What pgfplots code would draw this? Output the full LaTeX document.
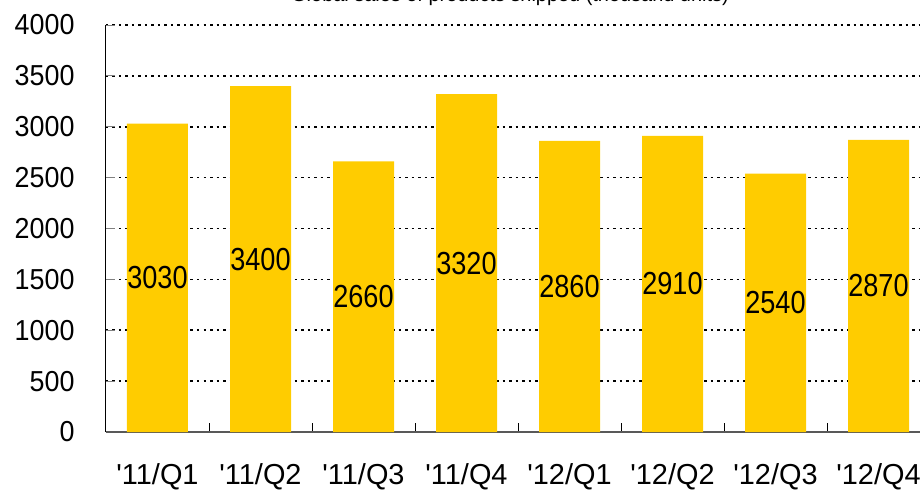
\documentclass[border=0pt]{standalone}
\usepackage{fontspec}
\setmainfont{Liberation Sans}
\newfontfamily\condA[FakeStretch=0.85]{Liberation Sans}
\newfontfamily\condB[FakeStretch=0.93]{Liberation Sans}
\usepackage{pgfplots}
\pgfplotsset{compat=1.18}
\definecolor{baryellow}{RGB}{255,204,0}
\begin{document}
\begin{tikzpicture}
\useasboundingbox (-106bp,-61bp) rectangle (814bp,432bp);
\clip (-106bp,-61bp) rectangle (814bp,432bp);
\node[anchor=base, font=\fontsize{20}{24}\selectfont] at (404bp,430.5bp) {Global sales of products shipped (thousand units)};
\begin{axis}[
  at={(0bp,0bp)}, anchor=south west,
  scale only axis, width=824bp, height=407bp,
  ymin=0, ymax=4000, ytick={0,500,...,4000},
  xmin=-0.5, xmax=7.5,
  xtick={0,...,7},
  xticklabels={\textquotesingle 11/Q1,\textquotesingle 11/Q2,\textquotesingle 11/Q3,\textquotesingle 11/Q4,\textquotesingle 12/Q1,\textquotesingle 12/Q2,\textquotesingle 12/Q3,\textquotesingle 12/Q4},
  major x tick style={draw=none},
  minor xtick={0.5,1.5,...,6.5},
  minor x tick style={black, line width=0.8bp},
  minor tick length=9bp,
  major tick length=9bp,
  ytick style={gray, line width=1bp},
  axis x line*=bottom, axis y line*=left,
  x axis line style={gray!70!black, line width=1.2bp, -},
  y axis line style={black, line width=1bp, -},
  ymajorgrids,
  grid style={black, line width=1.6bp, dash pattern=on 2.5bp off 4bp},
  yticklabel style={font=\condB\fontsize{29}{34}\selectfont, xshift=-28bp},
  xticklabel style={font=\fontsize{29}{34}\selectfont, yshift=-30bp, inner sep=1bp},
  /pgf/number format/assume math mode=true,
  /pgf/number format/1000 sep={},
  clip=false,
]
\addplot[ybar, bar width=61bp, fill=baryellow, draw=none] coordinates {
  (0,3030) (1,3400) (2,2660) (3,3320) (4,2860) (5,2910) (6,2540) (7,2870)
};
\addplot[draw=none, mark=none, nodes near coords, point meta=explicit,
  every node near coord/.append style={anchor=center, font=\condA\fontsize{32}{36}\selectfont, inner sep=0pt}]
  table[x=x, y=h, meta=v] {
x h v
0 1515 3030
1 1700 3400
2 1330 2660
3 1660 3320
4 1430 2860
5 1455 2910
6 1270 2540
7 1435 2870
};
\end{axis}
\end{tikzpicture}
\end{document}
